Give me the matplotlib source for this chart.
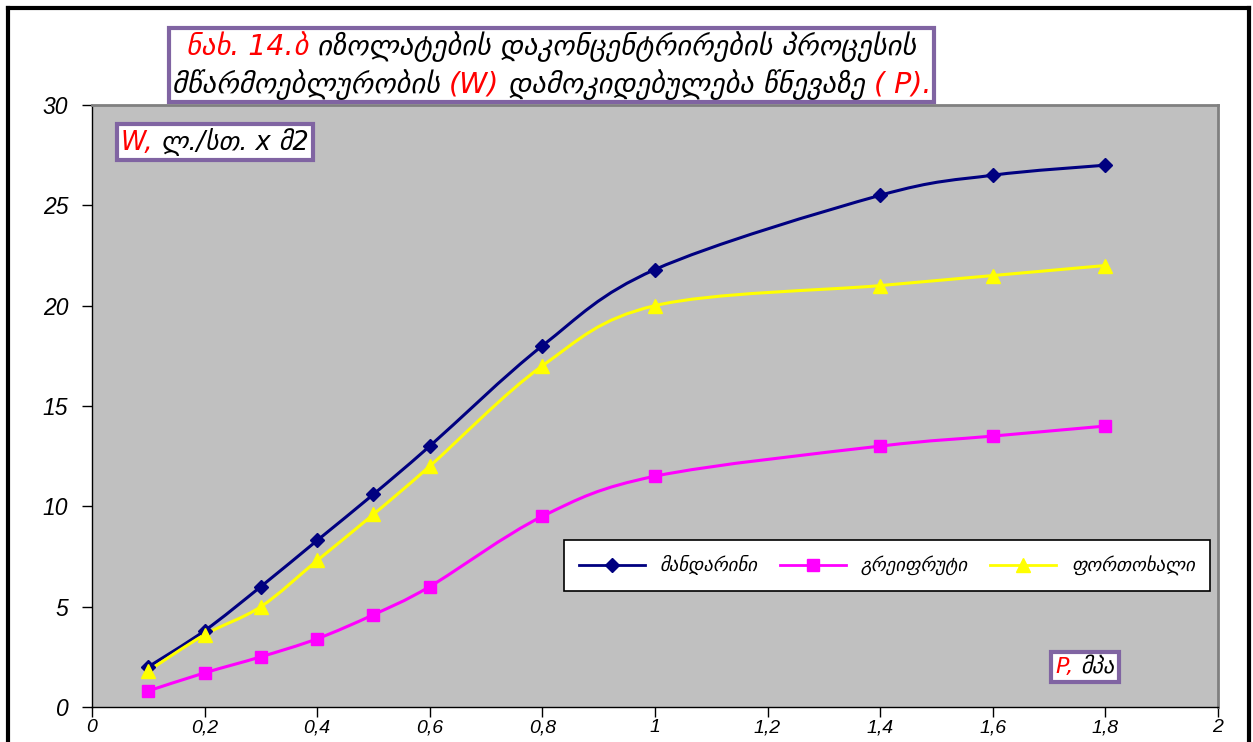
import numpy as np
import matplotlib
matplotlib.use('Agg')
import matplotlib.pyplot as plt
from matplotlib.path import Path
from matplotlib.patches import PathPatch
from matplotlib.lines import Line2D
from matplotlib.offsetbox import TextArea, HPacker, VPacker, AnchoredOffsetbox

# data
pressure = [0.1, 0.2, 0.3, 0.4, 0.5, 0.6, 0.8, 1.0, 1.4, 1.6, 1.8]
mandarin = [2.0, 3.8, 6.0, 8.3, 10.6, 13.0, 18.0, 21.8, 25.5, 26.5, 27.0]
grapefruit = [0.8, 1.7, 2.5, 3.4, 4.6, 6.0, 9.5, 11.5, 13.0, 13.5, 14.0]
orange = [1.8, 3.6, 5.0, 7.3, 9.6, 12.0, 17.0, 20.0, 21.0, 21.5, 22.0]
series_names = ['მანდარინი', 'გრეიფრუტი', 'ფორთოხალი']
xticks = [0, 0.2, 0.4, 0.6, 0.8, 1.0, 1.2, 1.4, 1.6, 1.8, 2.0]
xticklabels = ['0', '0,2', '0,4', '0,6', '0,8', '1', '1,2', '1,4', '1,6', '1,8', '2']
yticks = [0, 5, 10, 15, 20, 25, 30]

GEO = ['DejaVu Sans']
NUM = ['Liberation Sans Narrow', 'Liberation Sans', 'DejaVu Sans']
PURPLE = '#8064A2'


def smooth_path(x, y):
    # excel-like smoothed line: cubic bezier through the points
    p = np.column_stack([x, y]).astype(float)
    n = len(p)
    verts = [p[0]]
    codes = [Path.MOVETO]
    for i in range(n - 1):
        p0 = p[i - 1] if i > 0 else p[i]
        p3 = p[i + 2] if i + 2 < n else p[i + 1]
        c1 = p[i] + (p[i + 1] - p0) / 6.0
        c2 = p[i + 1] - (p3 - p[i]) / 6.0
        verts += [c1, c2, p[i + 1]]
        codes += [Path.CURVE4] * 3
    return Path(verts, codes)


fig = plt.figure(figsize=(12.53, 7.42), dpi=100)
ax = fig.add_axes([0.0734, 0.0472, 0.8986, 0.8113])
ax.set_facecolor('#C0C0C0')

styles = [
    (mandarin, '#000080', 'D', 7),
    (grapefruit, '#FF00FF', 's', 9),
    (orange, '#FFFF00', '^', 10),
]
handles = []
for (vals, col, mk, ms), name in zip(styles, series_names):
    ax.add_patch(PathPatch(smooth_path(pressure, vals), fc='none', ec=col, lw=2.2, zorder=3))
    ax.plot(pressure, vals, ls='none', marker=mk, ms=ms, color=col, zorder=4)
    handles.append(Line2D([], [], color=col, lw=2, marker=mk, ms=ms, label=name))

ax.set_xlim(0, 2)
ax.set_ylim(0, 30)
ax.set_xticks(xticks)
ax.set_xticklabels(xticklabels, family=NUM, style='italic', fontsize=14)
ax.set_yticks(yticks)
ax.set_yticklabels([str(v) for v in yticks], family=['Liberation Sans', 'DejaVu Sans'],
                   style='italic', fontsize=16.5)
ax.tick_params(axis='both', direction='out', length=7, width=1)
ax.tick_params(axis='x', pad=2)
ax.tick_params(axis='y', pad=10)
for s in ['top', 'right']:
    ax.spines[s].set_color('#808080')
    ax.spines[s].set_linewidth(2)
for s in ['left', 'bottom']:
    ax.spines[s].set_color('black')
    ax.spines[s].set_linewidth(1)

leg = ax.legend(handles=handles, loc='center', bbox_to_anchor=(0.706, 0.235), ncol=3,
                frameon=True, fancybox=False, framealpha=1, edgecolor='black',
                handlelength=3.5, columnspacing=1.2, borderpad=0.8,
                prop={'family': GEO, 'style': 'italic', 'size': 13.5})
leg.get_frame().set_linewidth(1.2)


def text_box(lines, xy, size, pad=0.35, sep=7):
    rows = []
    for parts in lines:
        areas = [TextArea(t, textprops=dict(color=c, family=GEO, style='italic', size=size))
                 for t, c in parts]
        rows.append(HPacker(children=areas, align='baseline', pad=0, sep=0))
    box = VPacker(children=rows, align='center', pad=0, sep=sep)
    anchored = AnchoredOffsetbox(loc='center', child=box, pad=pad, borderpad=0, frameon=True,
                                 bbox_to_anchor=xy, bbox_transform=fig.transFigure)
    anchored.patch.set_edgecolor(PURPLE)
    anchored.patch.set_linewidth(3)
    anchored.patch.set_facecolor('white')
    fig.add_artist(anchored)


text_box([[('ნახ. 14.ბ ', 'red'), ('იზოლატების დაკონცენტრირების პროცესის', 'black')],
          [('მწარმოებლურობის ', 'black'), ('(W)', 'red'), (' დამოკიდებულება წნევაზე ', 'black'),
           ('( P).', 'red')]],
         (0.44, 0.912), 20.5, pad=0.2, sep=5)
text_box([[('W, ', 'red'), ('ლ./სთ. x მ2', 'black')]], (0.1716, 0.8086), 18.5, pad=0.3)
text_box([[('P, ', 'red'), ('მპა', 'black')]], (0.866, 0.101), 16)

# outer frame of the picture
for xs, ys in [([0.0064, 0.0064], [0, 0.989]), ([0.0064, 0.9968], [0.989, 0.989]),
               ([0.9968, 0.9968], [0, 0.989])]:
    fig.add_artist(Line2D(xs, ys, color='black', lw=3, transform=fig.transFigure))

fig.savefig('out.png', dpi=100)
